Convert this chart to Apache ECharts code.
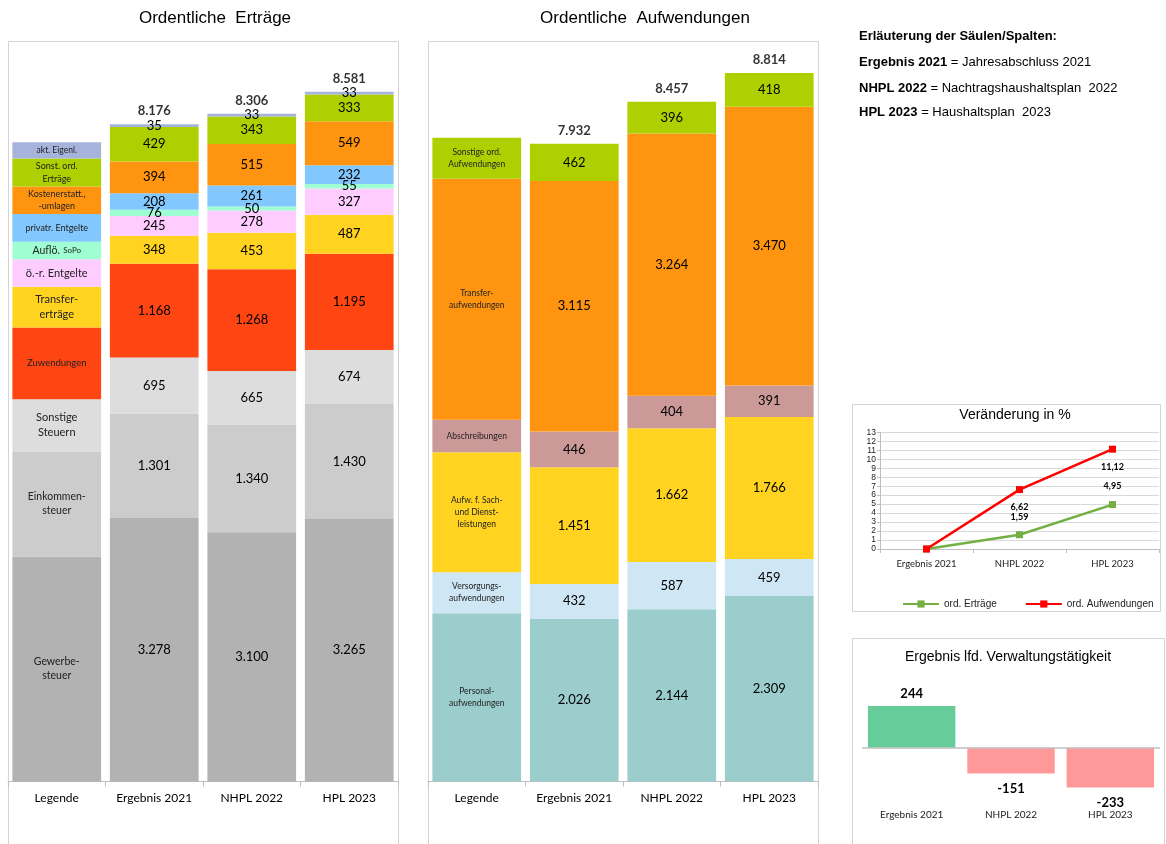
<!DOCTYPE html>
<html>
<head>
<meta charset="utf-8">
<script src="https://cdn.jsdelivr.net/npm/echarts@6/dist/echarts.min.js"></script>
<style>
  html, body { margin: 0; padding: 0; background: #fff; }
  #c { width: 1166px; height: 844px; }
</style>
</head>
<body>
<div id="c"></div>
<script>
// ---- columns ----
const columns = ['Ergebnis 2021', 'NHPL 2022', 'HPL 2023'];
const keyColumn = 'Legende';

// ---- Ordentliche Erträge (Mio. €), stacked bottom to top ----
const gewerbesteuer      = [3278, 3100, 3265];
const einkommensteuer    = [1301, 1340, 1430];
const sonstigeSteuern    = [695, 665, 674];
const zuwendungen        = [1168, 1268, 1195];
const transferertraege   = [348, 453, 487];
const oerEntgelte        = [245, 278, 327];
const aufloesungSoPo     = [76, 50, 55];
const privatrEntgelte    = [208, 261, 232];
const kostenerstattungen = [394, 515, 549];
const sonstOrdErtraege   = [429, 343, 333];
const aktEigenleistungen = [35, 33, 33];
const ertraegeSumme      = [8176, 8306, 8581];
// block sizes of the key column, same order
const ertraegeKeySpan    = [2798, 1306, 652, 891, 506, 345, 215, 345, 343, 348, 204];

// ---- Ordentliche Aufwendungen, stacked bottom to top ----
const personalaufw       = [2026, 2144, 2309];
const versorgungsaufw    = [432, 587, 459];
const sachDienstleist    = [1451, 1662, 1766];
const abschreibungen     = [446, 404, 391];
const transferaufw       = [3115, 3264, 3470];
const sonstOrdAufw       = [462, 396, 418];
const aufwendungenSumme  = [7932, 8457, 8814];
const aufwendungenKeySpan = [2093, 510, 1493, 403, 2998, 510];

// ---- Veränderung in % ----
const veraenderungErtraege     = [0, 1.59, 4.95];
const veraenderungAufwendungen = [0, 6.62, 11.12];

// ---- Ergebnis lfd. Verwaltungstätigkeit ----
const ergebnisLfdVerw = [244, -151, -233];

const CAL = 'Lato, "Open Sans", sans-serif';
const ARIAL = '"Liberation Sans", Arial, sans-serif';

const fmtInt = v => String(v).replace(/\B(?=(\d{3})+(?!\d))/g, '.');
const fmtDec = v => v.toFixed(2).replace('.', ',');

const ertraegeDefs = [
  { name: 'Gewerbesteuer', values: gewerbesteuer, color: '#B2B2B2', key: 'Gewerbe-\nsteuer', ks: { fontSize: 10.5, lineHeight: 14 } },
  { name: 'Einkommensteuer', values: einkommensteuer, color: '#CCCCCC', key: 'Einkommen-\nsteuer', ks: { fontSize: 10.5, lineHeight: 14 } },
  { name: 'Sonstige Steuern', values: sonstigeSteuern, color: '#DDDDDD', key: 'Sonstige\nSteuern', ks: { fontSize: 11, lineHeight: 15 } },
  { name: 'Zuwendungen', values: zuwendungen, color: '#FF4512', key: 'Zuwendungen', ks: { fontSize: 9.5 } },
  { name: 'Transfererträge', values: transferertraege, color: '#FFD320', key: 'Transfer-\nerträge', ks: { fontSize: 11, lineHeight: 15 } },
  { name: 'ö.-r. Entgelte', values: oerEntgelte, color: '#FFCCFF', key: 'ö.-r. Entgelte', ks: { fontSize: 11 } },
  { name: 'Auflösung SoPo', values: aufloesungSoPo, color: '#A0FFD2', key: '{a|Auflö.} {b|SoPo}', ks: { rich: { a: { fontSize: 10.5, fontFamily: CAL, color: '#222' }, b: { fontSize: 8, fontFamily: CAL, color: '#222' } } } },
  { name: 'privatr. Entgelte', values: privatrEntgelte, color: '#82C8FF', key: 'privatr. Entgelte', ks: { fontSize: 9 } },
  { name: 'Kostenerstattungen', values: kostenerstattungen, color: '#FF9411', key: 'Kostenerstatt.,\n-umlagen', ks: { fontSize: 9, lineHeight: 12 } },
  { name: 'Sonst. ord. Erträge', values: sonstOrdErtraege, color: '#AFD000', key: 'Sonst. ord.\nErträge', ks: { fontSize: 9, lineHeight: 13 } },
  { name: 'akt. Eigenleistungen', values: aktEigenleistungen, color: '#A6B4DC', key: 'akt. Eigenl.', ks: { fontSize: 8.5 } }
];

const aufwendungenDefs = [
  { name: 'Personalaufwendungen', values: personalaufw, color: '#9BCDCD', key: 'Personal-\naufwendungen', ks: { fontSize: 8.5, lineHeight: 12 } },
  { name: 'Versorgungsaufwendungen', values: versorgungsaufw, color: '#CFE6F5', key: 'Versorgungs-\naufwendungen', ks: { fontSize: 8.5, lineHeight: 12 } },
  { name: 'Sach- und Dienstleistungen', values: sachDienstleist, color: '#FFD320', key: 'Aufw. f. Sach-\nund Dienst-\nleistungen', ks: { fontSize: 8.5, lineHeight: 12 } },
  { name: 'Abschreibungen', values: abschreibungen, color: '#CC9999', key: 'Abschreibungen', ks: { fontSize: 8.5 } },
  { name: 'Transferaufwendungen', values: transferaufw, color: '#FF9411', key: 'Transfer-\naufwendungen', ks: { fontSize: 8.5, lineHeight: 12 } },
  { name: 'Sonstige ord. Aufwendungen', values: sonstOrdAufw, color: '#AFD000', key: 'Sonstige ord.\nAufwendungen', ks: { fontSize: 8.5, lineHeight: 12 } }
];

function stackSeries(axisIdx, stackId, defs, spans) {
  return defs.map((d, i) => ({
    type: 'bar',
    name: d.name,
    xAxisIndex: axisIdx,
    yAxisIndex: axisIdx,
    stack: stackId,
    barCategoryGap: '9%',
    itemStyle: { color: d.color },
    label: {
      show: true, position: 'inside', color: '#000',
      fontFamily: CAL, fontSize: 13,
      formatter: p => fmtInt(p.value)
    },
    data: [{
      value: spans[i],
      label: Object.assign({ formatter: d.key, color: '#222', fontFamily: CAL }, d.ks)
    }].concat(d.values)
  }));
}

function totalSeries(axisIdx, totals) {
  return {
    type: 'scatter',
    xAxisIndex: axisIdx,
    yAxisIndex: axisIdx,
    symbolSize: 1,
    itemStyle: { color: 'transparent' },
    z: 5,
    label: {
      show: true, position: 'top', distance: 6,
      fontFamily: CAL, fontSize: 13, fontWeight: 'bold', color: '#000',
      formatter: p => fmtInt(p.value)
    },
    data: ['-'].concat(totals)
  };
}

function mainXAxis(idx) {
  return {
    type: 'category', gridIndex: idx,
    data: [keyColumn].concat(columns),
    axisLine: { show: true, lineStyle: { color: '#BFBFBF', width: 1 } },
    axisTick: { show: true, interval: 0, length: 5, lineStyle: { color: '#BFBFBF' } },
    axisLabel: { interval: 0, fontFamily: CAL, fontSize: 12, color: '#000', margin: 11 }
  };
}
function mainYAxis(idx) {
  return { type: 'value', gridIndex: idx, min: 0, max: 9000, show: false };
}

const option = {
  animation: false,
  backgroundColor: '#fff',
  grid: [
    { left: 8, top: 58, width: 390, height: 723.5, outerBoundsMode: 'none' },
    { left: 428, top: 58, width: 390, height: 723.5, outerBoundsMode: 'none' },
    { left: 880, top: 432.3, width: 279, height: 116.7, outerBoundsMode: 'none' },
    { left: 862, top: 696.4, width: 298, height: 102.6, outerBoundsMode: 'none' }
  ],
  xAxis: [
    mainXAxis(0),
    mainXAxis(1),
    {
      type: 'category', gridIndex: 2, data: columns, boundaryGap: true,
      axisLine: { show: true, lineStyle: { color: '#BFBFBF' } },
      axisTick: { show: true, interval: 0, length: 4, lineStyle: { color: '#BFBFBF' } },
      axisLabel: { interval: 0, fontFamily: CAL, fontSize: 9.5, color: '#222', margin: 10 }
    },
    {
      type: 'category', gridIndex: 3, data: columns,
      axisLine: { show: false, onZero: false },
      axisTick: { show: false },
      axisLabel: { interval: 0, fontFamily: CAL, fontSize: 10, color: '#222', margin: 11 }
    }
  ],
  yAxis: [
    mainYAxis(0),
    mainYAxis(1),
    {
      type: 'value', gridIndex: 2, min: 0, max: 13, interval: 1,
      axisLine: { show: true, lineStyle: { color: '#BFBFBF' } },
      axisTick: { show: true, length: 3, lineStyle: { color: '#BFBFBF' } },
      axisLabel: { fontFamily: ARIAL, fontSize: 8.5, color: '#222', margin: 4 },
      splitLine: { show: true, lineStyle: { color: '#D9D9D9', width: 1 } }
    },
    { type: 'value', gridIndex: 3, min: -300, max: 300, show: false }
  ],
  legend: {
    data: ['ord. Erträge', 'ord. Aufwendungen'],
    left: 897, top: 594,
    itemWidth: 36, itemHeight: 9, itemGap: 28,
    selectedMode: false,
    textStyle: { fontFamily: ARIAL, fontSize: 10, color: '#222' }
  },
  series: [].concat(
    stackSeries(0, 'ertraege', ertraegeDefs, ertraegeKeySpan),
    [totalSeries(0, ertraegeSumme)],
    stackSeries(1, 'aufwendungen', aufwendungenDefs, aufwendungenKeySpan),
    [totalSeries(1, aufwendungenSumme)],
    [
      {
        type: 'line', name: 'ord. Erträge', xAxisIndex: 2, yAxisIndex: 2,
        symbol: 'rect', symbolSize: 7,
        lineStyle: { color: '#72B043', width: 2.5 },
        itemStyle: { color: '#72B043' },
        label: {
          show: true, position: 'top', distance: 10,
          fontFamily: CAL, fontSize: 9, fontWeight: 'bold', color: '#000',
          formatter: p => fmtDec(p.value)
        },
        data: veraenderungErtraege.map((v, i) => i === 0 ? { value: v, label: { show: false } } : v)
      },
      {
        type: 'line', name: 'ord. Aufwendungen', xAxisIndex: 2, yAxisIndex: 2,
        symbol: 'rect', symbolSize: 7,
        lineStyle: { color: '#FF0000', width: 2.5 },
        itemStyle: { color: '#FF0000' },
        label: {
          show: true, position: 'bottom', distance: 10,
          fontFamily: CAL, fontSize: 9, fontWeight: 'bold', color: '#000',
          formatter: p => fmtDec(p.value)
        },
        data: veraenderungAufwendungen.map((v, i) => i === 0 ? { value: v, label: { show: false } } : v)
      },
      {
        type: 'bar', name: 'Ergebnis lfd. Verwaltungstätigkeit', xAxisIndex: 3, yAxisIndex: 3,
        barCategoryGap: '12%',
        label: {
          show: true, fontFamily: CAL, fontSize: 13, fontWeight: 'bold', color: '#000',
          formatter: p => fmtInt(p.value)
        },
        markLine: {
          silent: true, symbol: 'none',
          label: { show: false },
          lineStyle: { color: '#BFBFBF', type: 'solid', width: 1.5 },
          data: [{ yAxis: 0 }]
        },
        data: ergebnisLfdVerw.map(v => ({
          value: v,
          itemStyle: { color: v >= 0 ? '#66CC99' : '#FF9999' },
          label: { position: v >= 0 ? 'top' : 'bottom', distance: v >= 0 ? 6 : 9 }
        }))
      }
    ]
  ),
  graphic: [
    // frames
    { type: 'rect', shape: { x: 8.5, y: 41.5, width: 390, height: 820 }, style: { fill: 'none', stroke: '#D4D4D4', lineWidth: 1 }, z: -1 },
    { type: 'rect', shape: { x: 428.5, y: 41.5, width: 390, height: 820 }, style: { fill: 'none', stroke: '#D4D4D4', lineWidth: 1 }, z: -1 },
    { type: 'rect', shape: { x: 852.5, y: 404.5, width: 308, height: 207 }, style: { fill: 'none', stroke: '#D4D4D4', lineWidth: 1 }, z: -1 },
    { type: 'rect', shape: { x: 852.5, y: 638.5, width: 312, height: 220 }, style: { fill: 'none', stroke: '#D4D4D4', lineWidth: 1 }, z: -1 },
    // headings
    { type: 'text', x: 215, y: 18, style: { text: 'Ordentliche  Erträge', fontFamily: ARIAL, fontSize: 17, fill: '#000', align: 'center', verticalAlign: 'middle' } },
    { type: 'text', x: 645, y: 18, style: { text: 'Ordentliche  Aufwendungen', fontFamily: ARIAL, fontSize: 17, fill: '#000', align: 'center', verticalAlign: 'middle' } },
    { type: 'text', x: 1015, y: 415, style: { text: 'Veränderung in %', fontFamily: ARIAL, fontSize: 14, fill: '#000', align: 'center', verticalAlign: 'middle' } },
    { type: 'text', x: 1008, y: 657, style: { text: 'Ergebnis lfd. Verwaltungstätigkeit', fontFamily: ARIAL, fontSize: 14, fill: '#000', align: 'center', verticalAlign: 'middle' } },
    // explanation of the columns
    { type: 'text', x: 859, y: 36, style: { text: 'Erläuterung der Säulen/Spalten:', fontFamily: ARIAL, fontSize: 13, fontWeight: 'bold', fill: '#000', verticalAlign: 'middle' } },
    { type: 'text', x: 859, y: 62, style: { text: '{b|Ergebnis 2021} = Jahresabschluss 2021', fontFamily: ARIAL, fontSize: 13, fill: '#000', verticalAlign: 'middle', rich: { b: { fontFamily: ARIAL, fontSize: 13, fontWeight: 'bold', fill: '#000' } } } },
    { type: 'text', x: 859, y: 88, style: { text: '{b|NHPL 2022} = Nachtragshaushaltsplan  2022', fontFamily: ARIAL, fontSize: 13, fill: '#000', verticalAlign: 'middle', rich: { b: { fontFamily: ARIAL, fontSize: 13, fontWeight: 'bold', fill: '#000' } } } },
    { type: 'text', x: 859, y: 112, style: { text: '{b|HPL 2023} = Haushaltsplan  2023', fontFamily: ARIAL, fontSize: 13, fill: '#000', verticalAlign: 'middle', rich: { b: { fontFamily: ARIAL, fontSize: 13, fontWeight: 'bold', fill: '#000' } } } }
  ]
};

const chart = echarts.init(document.getElementById('c'), null, { renderer: 'canvas' });
chart.setOption(option);
</script>
</body>
</html>
